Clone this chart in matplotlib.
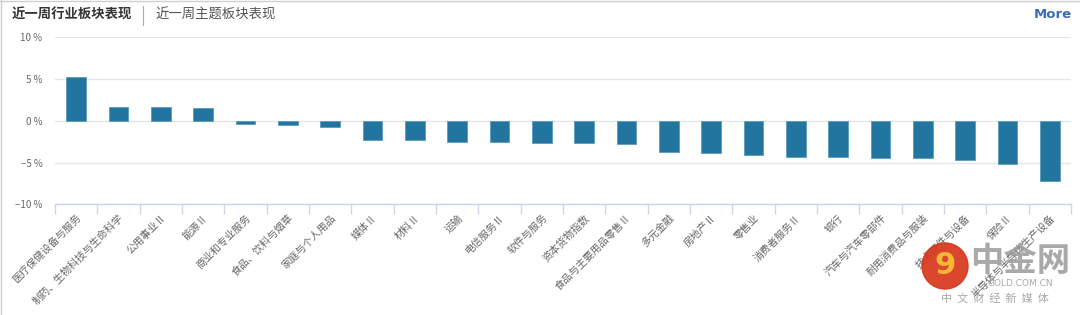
import matplotlib
matplotlib.use("Agg")
import matplotlib.pyplot as plt
from matplotlib.patches import Circle
from matplotlib.lines import Line2D
import numpy as np

plt.rcParams['font.family'] = ['Noto Sans CJK SC', 'DejaVu Sans']

categories = ['医疗保健设备与服务', '制药、生物科技与生命科学', '公用事业Ⅱ', '能源Ⅱ',
              '商业和专业服务', '食品、饮料与烟草', '家庭与个人用品', '媒体Ⅱ', '材料Ⅱ',
              '运输', '电信服务Ⅱ', '软件与服务', '资本货物指数', '食品与主要用品零售Ⅱ',
              '多元金融', '房地产Ⅱ', '零售业', '消费者服务Ⅱ', '银行', '汽车与汽车零部件',
              '耐用消费品与服装', '技术硬件与设备', '保险Ⅱ', '半导体与半导体生产设备']
values = [5.2, 1.7, 1.7, 1.5, -0.4, -0.5, -0.8, -2.3, -2.3, -2.5, -2.5, -2.6,
          -2.7, -2.8, -3.7, -3.85, -4.15, -4.3, -4.3, -4.4, -4.5, -4.75, -5.2, -7.15]
yticks = [-10, -5, 0, 5, 10]
ytick_labels = ['−10 %', '−5 %', '0 %', '5 %', '10 %']

W, H = 1080, 315
fig = plt.figure(figsize=(W / 100, H / 100), dpi=100)
ax = fig.add_axes([55 / W, 1 - 204.3 / H, (1071 - 55) / W, (204.3 - 37.3) / H])

x = np.arange(len(categories))
ax.bar(x, values, width=0.47, color='#21759f', edgecolor='#5a9cc0', linewidth=0.6, zorder=3)

ax.set_xlim(-0.5, len(categories) - 0.5)
ax.set_ylim(-10, 10)
ax.set_yticks(yticks)
ax.set_yticklabels(ytick_labels, fontsize=7, color='#666666')
ax.yaxis.grid(True, color='#e6e6e6', linewidth=1, zorder=0)
ax.tick_params(axis='y', length=0, pad=9)

ax.set_xticks(np.arange(len(categories) + 1) - 0.5, minor=True)
ax.set_xticks(x)
ax.set_xticklabels(categories, rotation=45, ha='right', va='top',
                   rotation_mode='anchor', fontsize=7.4, color='#666666')
ax.tick_params(axis='x', which='major', length=0, pad=6)
ax.tick_params(axis='x', which='minor', length=7, color='#ccd6eb', width=1)

for s in ['top', 'right', 'left']:
    ax.spines[s].set_visible(False)
ax.spines['bottom'].set_color('#ccd6eb')
ax.spines['bottom'].set_linewidth(1)

# header
fig.text(12 / W, 1 - 15 / H, '近一周行业板块表现', fontsize=9.6, color='#333333',
         fontweight='bold', va='center')
fig.add_artist(Line2D([143 / W, 143 / W], [1 - 6 / H, 1 - 25 / H], color='#aaaaaa', lw=0.8))
fig.text(155 / W, 1 - 15 / H, '近一周主题板块表现', fontsize=9.6, color='#555555', va='center')
fig.text(1072 / W, 1 - 14 / H, 'More', fontsize=9.5, color='#3a6db5', fontweight='bold',
         ha='right', va='center', family=['DejaVu Sans'])

# frame lines
fig.add_artist(Line2D([0, 1], [1 - 1 / H, 1 - 1 / H], color='#d0d0d0', lw=1))
fig.add_artist(Line2D([1 / W, 1 / W], [0, 1], color='#d0d0d0', lw=1))

# watermark
fig.add_artist(Circle((9.45, (H - 266) / 100), 0.23, transform=fig.dpi_scale_trans,
                      color='#d8361c', alpha=0.92, zorder=5))
fig.text(945 / W, 1 - 266 / H, '9', fontsize=22, color='#f5b82e', fontweight='bold',
         ha='center', va='center', zorder=6, family=['DejaVu Sans'])
fig.text(1020 / W, 1 - 261 / H, '中金网', fontsize=24, color='#9a9a9a', fontweight='bold',
         ha='center', va='center', alpha=0.85, zorder=6)
fig.text(1020 / W, 1 - 284 / H, 'GOLD.COM.CN', fontsize=6.5, color='#9a9a9a',
         ha='center', va='center', alpha=0.85, zorder=6, family=['DejaVu Sans'])
fig.text(995 / W, 1 - 298 / H, '中  文  财  经  新  媒  体', fontsize=8, color='#9a9a9a',
         ha='center', va='center', alpha=0.85, zorder=6)

fig.savefig('out.png', dpi=100, facecolor='white')
